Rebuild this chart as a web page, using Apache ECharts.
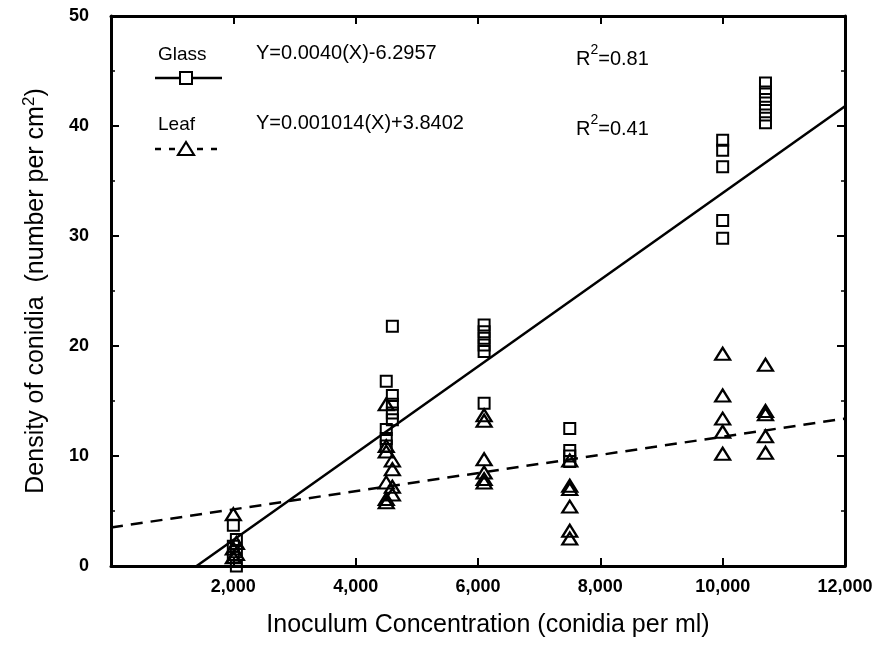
<!DOCTYPE html>
<html>
<head>
<meta charset="utf-8">
<script src="https://cdn.jsdelivr.net/npm/echarts@6/dist/echarts.min.js"></script>
<style>
  html, body { margin: 0; padding: 0; background: #fff; }
  #chart { width: 877px; height: 645px; }
</style>
</head>
<body>
<div id="chart"></div>
<script>
// inoculum levels (conidia per ml); close pairs are the side-by-side columns of one cluster
const glassLevels = [2000, 2050, 4500, 4600, 6100, 7500, 10000, 10700];
const glassDensity = [
  [3.7, 1.8, 0.8], [2.4, 1.3, 0.0],
  [16.8, 12.4, 11.6, 10.9], [21.8, 15.5, 14.7, 13.9, 13.3],
  [21.9, 21.3, 20.7, 20.1, 19.5, 14.8],
  [12.5, 10.5, 10.0, 9.5],
  [38.7, 37.8, 36.3, 31.4, 29.8],
  [43.9, 43.1, 42.4, 41.7, 41.0, 40.3]
];
const leafLevels = [2000, 2050, 4500, 4600, 6100, 7500, 10000, 10700];
const leafDensity = [
  [4.7, 1.6, 0.8], [2.1, 1.1],
  [14.7, 10.9, 10.4, 7.6, 6.1, 5.8], [9.6, 8.8, 7.2, 6.5],
  [13.7, 13.2, 9.7, 8.5, 7.9, 7.6],
  [9.6, 7.3, 7.0, 5.4, 3.2, 2.5],
  [19.3, 15.5, 13.4, 12.2, 10.2],
  [18.3, 14.1, 13.8, 11.8, 10.3]
];
// fitted lines, as drawn
const glassFitX = [1400, 12000], glassFitY = [0, 41.8];
const leafFitX = [0, 12000], leafFitY = [3.5, 13.4];
const xTicks = [0, 2000, 4000, 6000, 8000, 10000, 12000];
const yTicks = [0, 10, 20, 30, 40, 50];

const FONT = '"Liberation Sans", Arial, sans-serif';
const pairs = (lv, ys) => lv.flatMap((x, i) => ys[i].map(y => [x, y]));
const line = (xs, ys) => xs.map((x, i) => [x, ys[i]]);
const fmt = v => v === 0 ? '' : v.toLocaleString('en-US');

const tick = () => ({ show: true, inside: true, length: 8, lineStyle: { color: '#000', width: 2 } });
const axLine = () => ({ show: true, onZero: false, lineStyle: { color: '#000', width: 3 } });
const minor = () => ({ show: true, splitNumber: 2, length: 4, lineStyle: { color: '#000', width: 1.5 } });
const eqRich = {
  t: { font: '20px ' + FONT, fill: '#000', lineHeight: 26, verticalAlign: 'bottom' },
  s: { font: '14px ' + FONT, fill: '#000', verticalAlign: 'top' }
};

const chart = echarts.init(document.getElementById('chart'));
chart.setOption({
  animation: false,
  grid: { left: 111, right: 32, top: 16, bottom: 79 },
  xAxis: [
    { type: 'value', min: xTicks[0], max: xTicks[xTicks.length - 1], interval: 2000,
      axisLine: axLine(), axisTick: tick(), splitLine: { show: false },
      axisLabel: { formatter: fmt, color: '#000', fontFamily: FONT, fontWeight: 'bold', fontSize: 18, margin: 12 },
      name: 'Inoculum Concentration (conidia per ml)', nameLocation: 'middle', nameGap: 47,
      nameTextStyle: { color: '#000', fontFamily: FONT, fontSize: 25, padding: [0, 0, 0, 20] } },
    { type: 'value', position: 'top', min: xTicks[0], max: xTicks[xTicks.length - 1], interval: 2000,
      axisLine: axLine(), axisTick: tick(), axisLabel: { show: false }, splitLine: { show: false } }
  ],
  yAxis: [
    { type: 'value', min: yTicks[0], max: yTicks[yTicks.length - 1], interval: 10,
      axisLine: axLine(), axisTick: tick(), splitLine: { show: false }, minorTick: minor(),
      axisLabel: { color: '#000', fontFamily: FONT, fontWeight: 'bold', fontSize: 18, margin: 22 },
      name: '{t|Density of conidia  (number per cm}{s|2}{t|)}', nameLocation: 'middle', nameGap: 60,
      nameTextStyle: { rich: {
        t: { color: '#000', fontFamily: FONT, fontSize: 25, lineHeight: 30, verticalAlign: 'middle' },
        s: { color: '#000', fontFamily: FONT, fontSize: 17, verticalAlign: 'top' } } } },
    { type: 'value', position: 'right', min: yTicks[0], max: yTicks[yTicks.length - 1], interval: 10,
      axisLine: axLine(), axisTick: tick(), axisLabel: { show: false }, splitLine: { show: false },
      minorTick: minor() }
  ],
  graphic: [
    { type: 'text', left: 158, top: 45, style: { text: 'Glass', font: '19px ' + FONT, fill: '#000' } },
    { type: 'line', shape: { x1: 155, y1: 78, x2: 222, y2: 78 }, style: { stroke: '#000', lineWidth: 2.5 } },
    { type: 'rect', shape: { x: 180, y: 72, width: 12, height: 12 }, style: { fill: '#fff', stroke: '#000', lineWidth: 2 } },
    { type: 'text', left: 158, top: 115, style: { text: 'Leaf', font: '19px ' + FONT, fill: '#000' } },
    { type: 'line', shape: { x1: 155, y1: 149, x2: 222, y2: 149 }, style: { stroke: '#000', lineWidth: 2.5, lineDash: [6, 8] } },
    { type: 'polygon', shape: { points: [[186, 142], [178, 155], [194, 155]] }, style: { fill: '#fff', stroke: '#000', lineWidth: 2.2 } },
    { type: 'text', left: 256, top: 43, style: { text: '{t|Y=0.0040(X)-6.2957}', rich: eqRich } },
    { type: 'text', left: 256, top: 113, style: { text: '{t|Y=0.001014(X)+3.8402}', rich: eqRich } },
    { type: 'text', left: 576, top: 43, style: { text: '{t|R}{s|2}{t|=0.81}', rich: eqRich } },
    { type: 'text', left: 576, top: 113, style: { text: '{t|R}{s|2}{t|=0.41}', rich: eqRich } }
  ],
  series: [
    { name: 'Glass fit', type: 'line', data: line(glassFitX, glassFitY), showSymbol: false, silent: true,
      lineStyle: { color: '#000', width: 2.5 } },
    { name: 'Leaf fit', type: 'line', data: line(leafFitX, leafFitY), showSymbol: false, silent: true,
      lineStyle: { color: '#000', width: 2.5, type: [12, 8] } },
    { name: 'Glass', type: 'scatter', data: pairs(glassLevels, glassDensity), symbol: 'rect', symbolSize: 11,
      itemStyle: { color: 'rgba(0,0,0,0)', borderColor: '#000', borderWidth: 2, opacity: 1 } },
    { name: 'Leaf', type: 'scatter', data: pairs(leafLevels, leafDensity), symbol: 'triangle', symbolSize: [15, 12],
      itemStyle: { color: 'rgba(0,0,0,0)', borderColor: '#000', borderWidth: 2.2, opacity: 1 } }
  ]
});
</script>
</body>
</html>
